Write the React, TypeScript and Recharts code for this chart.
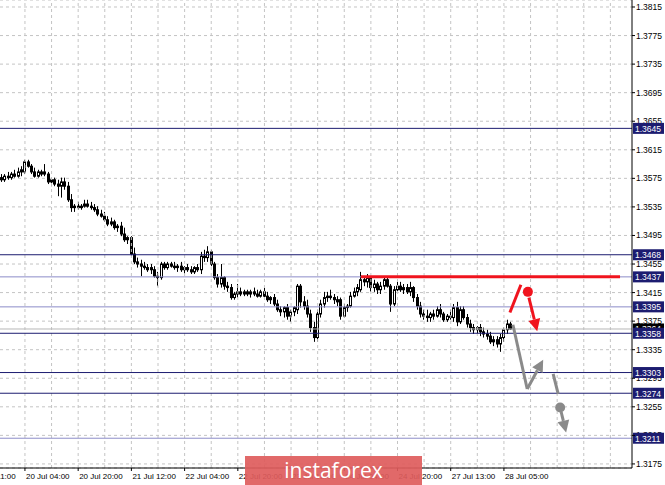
import React from 'react';
import {
  ComposedChart,
  Bar,
  XAxis,
  YAxis,
  CartesianGrid,
  ReferenceLine,
  ReferenceDot,
} from 'recharts';

// hourly candles, oldest first
const opens = [
  1.3576, 1.3573, 1.3578, 1.3576, 1.3581, 1.3578, 1.3584, 1.3584, 1.3598, 1.3592,
  1.3584, 1.3578, 1.3584, 1.3581, 1.3581, 1.3570, 1.3573, 1.3567, 1.3564, 1.3570,
  1.3564, 1.3545, 1.3534, 1.3536, 1.3534, 1.3536, 1.3539, 1.3536, 1.3534, 1.3531,
  1.3525, 1.3522, 1.3517, 1.3511, 1.3514, 1.3506, 1.3508, 1.3497, 1.3489, 1.3492,
  1.3469, 1.3458, 1.3455, 1.3452, 1.3450, 1.3447, 1.3447, 1.3438, 1.3436, 1.3455,
  1.3450, 1.3455, 1.3452, 1.3450, 1.3452, 1.3447, 1.3450, 1.3447, 1.3444, 1.3450,
  1.3447, 1.3466, 1.3464, 1.3472, 1.3455, 1.3436, 1.3427, 1.3436, 1.3424, 1.3422,
  1.3408, 1.3413, 1.3416, 1.3413, 1.3416, 1.3413, 1.3416, 1.3413, 1.3410, 1.3416,
  1.3410, 1.3405, 1.3408, 1.3399, 1.3391, 1.3388, 1.3394, 1.3382, 1.3388, 1.3391,
  1.3424, 1.3402, 1.3396, 1.3385, 1.3366, 1.3352, 1.3385, 1.3399, 1.3408, 1.3410,
  1.3408, 1.3405, 1.3405, 1.3382, 1.3394, 1.3396, 1.3410, 1.3416, 1.3419, 1.3433,
  1.3430, 1.3436, 1.3422, 1.3427, 1.3419, 1.3424, 1.3433, 1.3424, 1.3399, 1.3419,
  1.3424, 1.3419, 1.3422, 1.3416, 1.3422, 1.3408, 1.3396, 1.3385, 1.3382, 1.3380,
  1.3385, 1.3382, 1.3391, 1.3385, 1.3377, 1.3382, 1.3380, 1.3394, 1.3374, 1.3391,
  1.3380, 1.3371, 1.3366, 1.3363, 1.3366, 1.3360, 1.3357, 1.3354, 1.3346, 1.3349,
  1.3343, 1.3352, 1.3363, 1.3371,
];
const highs = [
  1.3581, 1.3581, 1.3584, 1.3584, 1.3587, 1.3590, 1.3592, 1.3601, 1.3601, 1.3595,
  1.3590, 1.3587, 1.3587, 1.3595, 1.3584, 1.3576, 1.3576, 1.3573, 1.3576, 1.3576,
  1.3570, 1.3553, 1.3539, 1.3542, 1.3539, 1.3545, 1.3545, 1.3542, 1.3539, 1.3536,
  1.3531, 1.3528, 1.3522, 1.3520, 1.3517, 1.3511, 1.3514, 1.3506, 1.3494, 1.3494,
  1.3478, 1.3464, 1.3461, 1.3458, 1.3455, 1.3455, 1.3452, 1.3444, 1.3458, 1.3458,
  1.3458, 1.3458, 1.3458, 1.3455, 1.3458, 1.3452, 1.3455, 1.3452, 1.3452, 1.3455,
  1.3472, 1.3475, 1.3480, 1.3475, 1.3458, 1.3441, 1.3455, 1.3438, 1.3430, 1.3427,
  1.3416, 1.3427, 1.3422, 1.3419, 1.3419, 1.3419, 1.3422, 1.3419, 1.3419, 1.3422,
  1.3416, 1.3410, 1.3413, 1.3405, 1.3396, 1.3396, 1.3399, 1.3391, 1.3396, 1.3427,
  1.3427, 1.3410, 1.3405, 1.3391, 1.3374, 1.3391, 1.3405, 1.3416, 1.3416, 1.3419,
  1.3413, 1.3410, 1.3408, 1.3399, 1.3399, 1.3416, 1.3422, 1.3427, 1.3444, 1.3438,
  1.3441, 1.3438, 1.3433, 1.3430, 1.3430, 1.3438, 1.3438, 1.3427, 1.3424, 1.3430,
  1.3430, 1.3427, 1.3427, 1.3430, 1.3424, 1.3413, 1.3402, 1.3391, 1.3391, 1.3388,
  1.3391, 1.3396, 1.3399, 1.3388, 1.3385, 1.3391, 1.3399, 1.3402, 1.3396, 1.3396,
  1.3385, 1.3377, 1.3371, 1.3368, 1.3371, 1.3366, 1.3363, 1.3360, 1.3354, 1.3354,
  1.3357, 1.3366, 1.3377, 1.3374,
];
const lows = [
  1.3570, 1.3570, 1.3573, 1.3573, 1.3576, 1.3576, 1.3578, 1.3581, 1.3590, 1.3581,
  1.3576, 1.3576, 1.3578, 1.3578, 1.3567, 1.3564, 1.3564, 1.3550, 1.3548, 1.3559,
  1.3542, 1.3528, 1.3528, 1.3531, 1.3531, 1.3534, 1.3534, 1.3531, 1.3528, 1.3522,
  1.3520, 1.3514, 1.3508, 1.3508, 1.3503, 1.3500, 1.3494, 1.3486, 1.3483, 1.3466,
  1.3455, 1.3450, 1.3438, 1.3447, 1.3444, 1.3441, 1.3436, 1.3424, 1.3433, 1.3447,
  1.3447, 1.3450, 1.3447, 1.3444, 1.3444, 1.3441, 1.3444, 1.3441, 1.3441, 1.3444,
  1.3441, 1.3458, 1.3458, 1.3452, 1.3433, 1.3422, 1.3422, 1.3419, 1.3416, 1.3405,
  1.3405, 1.3408, 1.3410, 1.3410, 1.3410, 1.3408, 1.3410, 1.3408, 1.3408, 1.3408,
  1.3402, 1.3399, 1.3396, 1.3388, 1.3382, 1.3380, 1.3377, 1.3374, 1.3382, 1.3385,
  1.3394, 1.3391, 1.3380, 1.3360, 1.3346, 1.3346, 1.3380, 1.3394, 1.3402, 1.3405,
  1.3399, 1.3396, 1.3377, 1.3380, 1.3388, 1.3394, 1.3408, 1.3410, 1.3416, 1.3424,
  1.3422, 1.3416, 1.3416, 1.3413, 1.3413, 1.3419, 1.3422, 1.3388, 1.3396, 1.3413,
  1.3416, 1.3413, 1.3413, 1.3410, 1.3402, 1.3391, 1.3380, 1.3377, 1.3374, 1.3374,
  1.3377, 1.3380, 1.3380, 1.3374, 1.3374, 1.3377, 1.3374, 1.3368, 1.3371, 1.3377,
  1.3366, 1.3360, 1.3357, 1.3357, 1.3354, 1.3352, 1.3349, 1.3343, 1.3340, 1.3338,
  1.3332, 1.3346, 1.3357, 1.3363,
];
const closes = [
  1.3573, 1.3578, 1.3576, 1.3581, 1.3578, 1.3584, 1.3587, 1.3598, 1.3592, 1.3584,
  1.3578, 1.3584, 1.3581, 1.3584, 1.3570, 1.3573, 1.3567, 1.3564, 1.3570, 1.3564,
  1.3545, 1.3534, 1.3536, 1.3534, 1.3536, 1.3539, 1.3536, 1.3534, 1.3531, 1.3525,
  1.3522, 1.3517, 1.3511, 1.3514, 1.3506, 1.3508, 1.3497, 1.3489, 1.3492, 1.3469,
  1.3458, 1.3455, 1.3452, 1.3450, 1.3447, 1.3450, 1.3438, 1.3436, 1.3455, 1.3450,
  1.3455, 1.3452, 1.3450, 1.3452, 1.3447, 1.3450, 1.3447, 1.3444, 1.3450, 1.3447,
  1.3466, 1.3464, 1.3472, 1.3455, 1.3436, 1.3427, 1.3436, 1.3424, 1.3422, 1.3408,
  1.3413, 1.3416, 1.3413, 1.3416, 1.3413, 1.3416, 1.3413, 1.3410, 1.3416, 1.3410,
  1.3405, 1.3408, 1.3399, 1.3391, 1.3388, 1.3394, 1.3382, 1.3388, 1.3394, 1.3424,
  1.3402, 1.3396, 1.3385, 1.3366, 1.3352, 1.3385, 1.3399, 1.3408, 1.3410, 1.3408,
  1.3405, 1.3402, 1.3382, 1.3394, 1.3396, 1.3410, 1.3416, 1.3422, 1.3433, 1.3430,
  1.3436, 1.3422, 1.3427, 1.3419, 1.3424, 1.3433, 1.3424, 1.3399, 1.3419, 1.3424,
  1.3419, 1.3422, 1.3416, 1.3422, 1.3408, 1.3396, 1.3385, 1.3382, 1.3380, 1.3385,
  1.3382, 1.3391, 1.3385, 1.3377, 1.3382, 1.3380, 1.3394, 1.3374, 1.3391, 1.3380,
  1.3371, 1.3366, 1.3363, 1.3366, 1.3360, 1.3357, 1.3354, 1.3346, 1.3349, 1.3343,
  1.3352, 1.3363, 1.3371, 1.3364,
];

const lastPrice = 1.3364;

// x axis labels, one every 16 bars
const timeTickIdx = [7, 23, 39, 55, 71, 87, 103, 119, 135, 151];
const timeLabels = [
  '20 Jul 04:00', '20 Jul 20:00', '21 Jul 12:00', '22 Jul 04:00', '22 Jul 20:00',
  '23 Jul 12:00', '24 Jul 04:00', '24 Jul 20:00', '27 Jul 13:00', '28 Jul 05:00',
];
const prevLabel = '17 Jul 11:00';
const gridIdx = [7, 15, 23, 31, 39, 47, 55, 63, 71, 79, 87, 95, 103, 111, 119, 127, 135, 143, 151, 159, 167, 175, 183];

const priceTicks = [
  1.3175, 1.3215, 1.3255, 1.3295, 1.3335, 1.3375, 1.3415, 1.3455, 1.3495,
  1.3535, 1.3575, 1.3615, 1.3655, 1.3695, 1.3735, 1.3775, 1.3815,
];

// support / resistance levels
const levels = [1.3645, 1.3468, 1.3437, 1.3395, 1.3358, 1.3303, 1.3274, 1.3211];
const levelTone = ['dark', 'dark', 'light', 'light', 'dark', 'dark', 'dark', 'light'];

// forecast drawings [barIndex, price]
const redSegment = [[108, 1.3437], [185.9, 1.3437]];
const redSlash = [[152.8, 1.3387], [156.1, 1.3426]];
const redDot = [158.2, 1.3416];
const redArrow = [[158.5, 1.3408], [161.0, 1.3361]];
const greyDown = [[153.7, 1.3370], [158.0, 1.3280]];
const greyUp = [[158.0, 1.3280], [162.8, 1.3321]];
const greyDown2 = [[165.8, 1.3301], [167.3, 1.3273]];
const greyDot = [167.9, 1.3254];
const greyArrow2 = [[168.2, 1.3248], [169.7, 1.3219]];

const data = closes.map((c, i) => ({
  i,
  open: opens[i],
  high: highs[i],
  low: lows[i],
  close: c,
}));

const DARK = '#1c1c70';
const LIGHT = '#8c8cc8';
const RED = '#f0141e';
const GREY = '#8a8a8a';
const GRID = '#c4c4c4';
const FONT = '"Liberation Sans", Arial, sans-serif';

const Candle = (props: any) => {
  const { x, y, width, height, payload } = props;
  if (!payload || payload.high == null) return null;
  const top = Math.min(y, y + height);
  const h = Math.abs(height);
  const r = h / (payload.high - payload.low);
  const px = Math.floor(x + width / 2);
  const yo = top + (payload.high - payload.open) * r;
  const yc = top + (payload.high - payload.close) * r;
  const bTop = Math.min(yo, yc);
  const bH = Math.max(1, Math.abs(yo - yc));
  const up = payload.close >= payload.open;
  return (
    <g>
      <line x1={px + 0.5} x2={px + 0.5} y1={top} y2={top + h} stroke="#000" strokeWidth={1} />
      <rect
        x={px - 0.5}
        y={bTop}
        width={2}
        height={bH}
        fill={up ? '#fff' : '#000'}
        stroke="#000"
        strokeWidth={1}
      />
    </g>
  );
};

const arrowShape = (color: string, head: boolean) => (props: any) => {
  const { x1, y1, x2, y2 } = props;
  if (x1 == null) return null;
  const dx = x2 - x1;
  const dy = y2 - y1;
  const len = Math.sqrt(dx * dx + dy * dy) || 1;
  const ux = dx / len;
  const uy = dy / len;
  const hl = 12;
  const hw = 6;
  const bx = x2 - ux * hl;
  const by = y2 - uy * hl;
  return (
    <g>
      <line
        x1={x1}
        y1={y1}
        x2={head ? bx : x2}
        y2={head ? by : y2}
        stroke={color}
        strokeWidth={3}
      />
      {head && (
        <polygon
          points={`${x2},${y2} ${bx - uy * hw},${by + ux * hw} ${bx + uy * hw},${by - ux * hw}`}
          fill={color}
        />
      )}
    </g>
  );
};

// price tag box at the right end of a level
const LevelTag = (props: any) => {
  const { viewBox, text, fill } = props;
  if (!viewBox) return null;
  const bx = viewBox.x + viewBox.width + 1;
  const by = viewBox.y;
  return (
    <g>
      <rect x={bx} y={by - 5.5} width={31} height={11} fill={fill} />
      <text x={bx + 2} y={by + 3.5} fill="#fff" fontSize={8.5} fontFamily={FONT}>
        {text}
      </text>
    </g>
  );
};

// plain price label on the right scale (drawn as a label so the tags can cover it)
const PriceLabel = (props: any) => {
  const { viewBox, text } = props;
  if (!viewBox) return null;
  return (
    <text
      x={viewBox.x + viewBox.width + 4}
      y={viewBox.y + 3}
      fill="#000"
      fontSize={8.5}
      fontFamily={FONT}
    >
      {text}
    </text>
  );
};

const NoTick = () => <g />;

const TimeTick = (props: any) => {
  const { x, y, payload } = props;
  const k = timeTickIdx.indexOf(payload.value);
  const step = (timeTickIdx[1] - timeTickIdx[0]) * (x / (payload.value + 0.5));
  return (
    <g>
      <text x={x + 1} y={y + 6} fontSize={8} fontFamily={FONT} fill="#000" textAnchor="start">
        {timeLabels[k]}
      </text>
      {k === 0 && (
        <text x={x + 1 - step} y={y + 6} fontSize={8} fontFamily={FONT} fill="#000" textAnchor="start">
          {prevLabel}
        </text>
      )}
    </g>
  );
};

const seg = (s: number[][]) => [
  { x: s[0][0], y: s[0][1] },
  { x: s[1][0], y: s[1][1] },
];

export default function App() {
  return (
    <div style={{ position: 'absolute', left: 0, top: 0, width: 665, height: 485, background: '#fff' }}>
      <ComposedChart
        width={665}
        height={485}
        data={data}
        margin={{ top: 0, right: 0, left: 0, bottom: 0 }}
      >
        <CartesianGrid vertical={false} stroke={GRID} strokeDasharray="3 3" />
        {gridIdx.map((g) => (
          <ReferenceLine key={'g' + g} x={g} stroke={GRID} strokeDasharray="3 3" />
        ))}
        <XAxis
          dataKey="i"
          type="number"
          domain={[-0.5, 189.5]}
          allowDataOverflow
          ticks={timeTickIdx}
          interval={0}
          height={17}
          axisLine={{ stroke: '#000' }}
          tickLine={{ stroke: '#000' }}
          tickSize={3}
          tickMargin={2}
          tick={<TimeTick />}
        />
        <YAxis
          orientation="right"
          type="number"
          domain={[1.31693, 1.38248]}
          allowDataOverflow
          ticks={priceTicks}
          interval={0}
          width={33}
          axisLine={{ stroke: '#000' }}
          tickLine={{ stroke: '#000' }}
          tickSize={3}
          tick={<NoTick />}
        />
        {priceTicks.map((t) => (
          <ReferenceLine
            key={'t' + t}
            y={t}
            stroke="none"
            label={(p: any) => <PriceLabel {...p} text={t.toFixed(4)} />}
          />
        ))}
        <ReferenceLine
          y={lastPrice}
          stroke="#b8b8b8"
          label={(p: any) => <LevelTag {...p} text={lastPrice.toFixed(4)} fill="#000" />}
        />
        {levels.map((lv, k) => (
          <ReferenceLine
            key={'l' + lv}
            y={lv}
            stroke={levelTone[k] === 'dark' ? DARK : LIGHT}
            strokeWidth={1}
            label={(p: any) => <LevelTag {...p} text={lv.toFixed(4)} fill={DARK} />}
          />
        ))}
        <Bar
          dataKey={(d: any) => [d.low, d.high]}
          barSize={3}
          shape={<Candle />}
          isAnimationActive={false}
        />
        <ReferenceLine segment={seg(redSegment)} stroke={RED} strokeWidth={3} />
        <ReferenceLine segment={seg(redSlash)} shape={arrowShape(RED, false)} />
        <ReferenceLine segment={seg(redArrow)} shape={arrowShape(RED, true)} />
        <ReferenceDot x={redDot[0]} y={redDot[1]} r={5} fill={RED} stroke="none" />
        <ReferenceLine segment={seg(greyDown)} shape={arrowShape(GREY, false)} />
        <ReferenceLine segment={seg(greyUp)} shape={arrowShape(GREY, true)} />
        <ReferenceLine segment={seg(greyDown2)} shape={arrowShape(GREY, false)} />
        <ReferenceDot x={greyDot[0]} y={greyDot[1]} r={5} fill={GREY} stroke="none" />
        <ReferenceLine segment={seg(greyArrow2)} shape={arrowShape(GREY, true)} />
      </ComposedChart>
      <div
        style={{
          position: 'absolute',
          left: 245,
          top: 456,
          width: 177,
          height: 29,
          background: 'rgba(222, 92, 92, 0.92)',
          color: '#fff',
          fontFamily: '"Open Sans", sans-serif',
          fontSize: 21,
          lineHeight: '29px',
          textAlign: 'center',
        }}
      >
        instaforex
      </div>
    </div>
  );
}
